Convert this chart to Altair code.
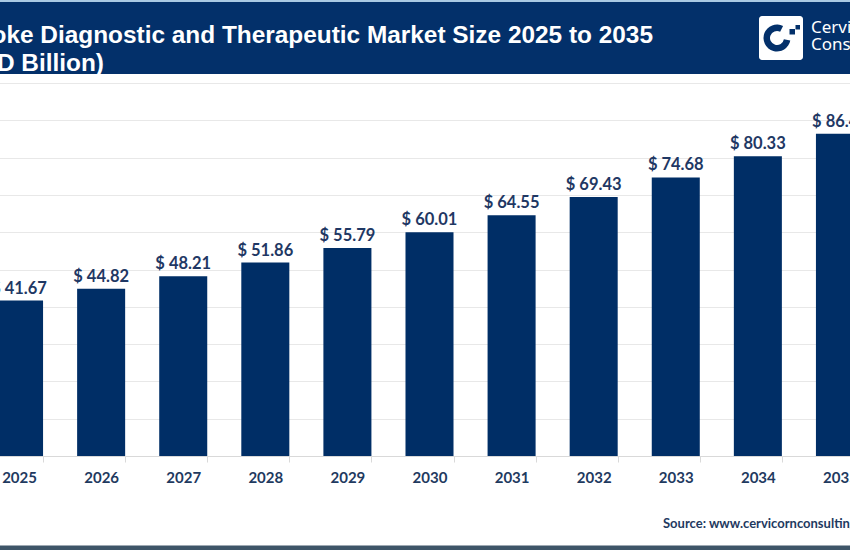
import altair as alt
import pandas as pd

# Market size by year, USD billion
years = ["2025", "2026", "2027", "2028", "2029", "2030",
         "2031", "2032", "2033", "2034", "2035"]
values = [41.67, 44.82, 48.21, 51.86, 55.79, 60.01,
          64.55, 69.43, 74.68, 80.33, 86.41]
labels = [f"$ {v:.2f}" for v in values]

title_line1 = "Stroke Diagnostic and Therapeutic Market Size 2025 to 2035"
title_line2 = "(USD Billion)"
brand_line1 = "Cervicorn"
brand_line2 = "Consulting"
source_text = "Source: www.cervicornconsulting.com"

NAVY = "#03306a"
BAR = "#002e66"
LABEL = "#1f3864"
W, H = 850, 550

df = pd.DataFrame({"year": years, "value": values, "label": labels})
one = pd.DataFrame({"k": [0]})

x_scale = alt.Scale(domain=years, range=[-22, 881],
                    paddingInner=0.415, paddingOuter=0.2075)
y_scale = alt.Scale(domain=[0, 100], range=[456, 83], nice=False, zero=True)

x_axis = alt.Axis(
    title=None, labelAngle=0, offset=-94, tickBand="extent",
    domainColor="#d9d9d9", tickColor="#d9d9d9", tickSize=6,
    labelFont="Lato", labelFontWeight="bold", labelFontSize=15,
    labelColor="#1f3a5f", labelPadding=8, grid=False,
)
y_axis = alt.Axis(
    title=None, labels=False, ticks=False, domain=False, grid=True,
    gridColor="#e8e8e8", gridWidth=1, values=list(range(10, 101, 10)),
)

bars = alt.Chart(df).mark_bar(color=BAR, clip=True).encode(
    x=alt.X("year:N", scale=x_scale, axis=x_axis, sort=years),
    y=alt.Y("value:Q", scale=y_scale, axis=y_axis),
)

bar_labels = alt.Chart(df).mark_text(
    dy=-7, baseline="alphabetic", font="Lato", fontWeight="bold",
    fontSize=16.5, color=LABEL, clip=True,
).encode(
    x=alt.X("year:N", scale=x_scale, sort=years),
    y=alt.Y("value:Q", scale=y_scale),
    text="label:N",
)

# Header band with title
header = alt.Chart(one).mark_rect(color=NAVY).encode(
    x=alt.value(0), x2=alt.value(W), y=alt.value(0), y2=alt.value(74))
top_line = alt.Chart(one).mark_rect(color="#a9c9e3").encode(
    x=alt.value(0), x2=alt.value(W), y=alt.value(0), y2=alt.value(2))

title1 = alt.Chart(one).mark_text(
    align="right", baseline="alphabetic", font="Liberation Sans",
    fontWeight="bold", fontSize=24.4, color="white",
).encode(x=alt.value(653), y=alt.value(43), text=alt.value(title_line1))
title2 = alt.Chart(one).mark_text(
    align="right", baseline="alphabetic", font="Liberation Sans",
    fontWeight="bold", fontSize=24.4, color="white",
).encode(x=alt.value(104), y=alt.value(70.5), text=alt.value(title_line2))

# Brand mark
logo_box = alt.Chart(one).mark_rect(color="white", cornerRadius=3).encode(
    x=alt.value(759), x2=alt.value(803), y=alt.value(16), y2=alt.value(60))
logo_c = alt.Chart(one).mark_arc(color=NAVY).encode(
    x=alt.value(777), y=alt.value(38),
    radius=alt.value(13.5), radius2=alt.value(7),
    theta=alt.value(1.75), theta2=alt.value(6.75))
logo_sq1 = alt.Chart(one).mark_rect(color=NAVY).encode(
    x=alt.value(789.5), x2=alt.value(795), y=alt.value(29), y2=alt.value(34.5))
logo_sq2 = alt.Chart(one).mark_rect(color=NAVY).encode(
    x=alt.value(795.5), x2=alt.value(800), y=alt.value(25), y2=alt.value(29.5))
brand1 = alt.Chart(one).mark_text(
    align="left", baseline="alphabetic", font="Noto Sans",
    fontSize=17, color="white",
).encode(x=alt.value(811), y=alt.value(33), text=alt.value(brand_line1))
brand2 = alt.Chart(one).mark_text(
    align="left", baseline="alphabetic", font="Noto Sans",
    fontSize=17, color="white",
).encode(x=alt.value(811), y=alt.value(49.5), text=alt.value(brand_line2))

source = alt.Chart(one).mark_text(
    align="left", baseline="alphabetic", font="Lato", fontWeight="bold",
    fontSize=13, color="#1f3a5f",
).encode(x=alt.value(663), y=alt.value(528), text=alt.value(source_text))

bottom_line = alt.Chart(one).mark_rect(color="#3e5568").encode(
    x=alt.value(0), x2=alt.value(W), y=alt.value(545.5), y2=alt.value(H))

chart = alt.layer(
    bars, bar_labels, header, top_line, title1, title2,
    logo_box, logo_c, logo_sq1, logo_sq2, brand1, brand2,
    source, bottom_line,
).properties(
    width=W, height=H, autosize=alt.AutoSizeParams(type="none"), padding=0,
    background="white",
).configure_view(stroke=None)

chart.save("out.html", embed_options={"renderer": "svg", "actions": False})
